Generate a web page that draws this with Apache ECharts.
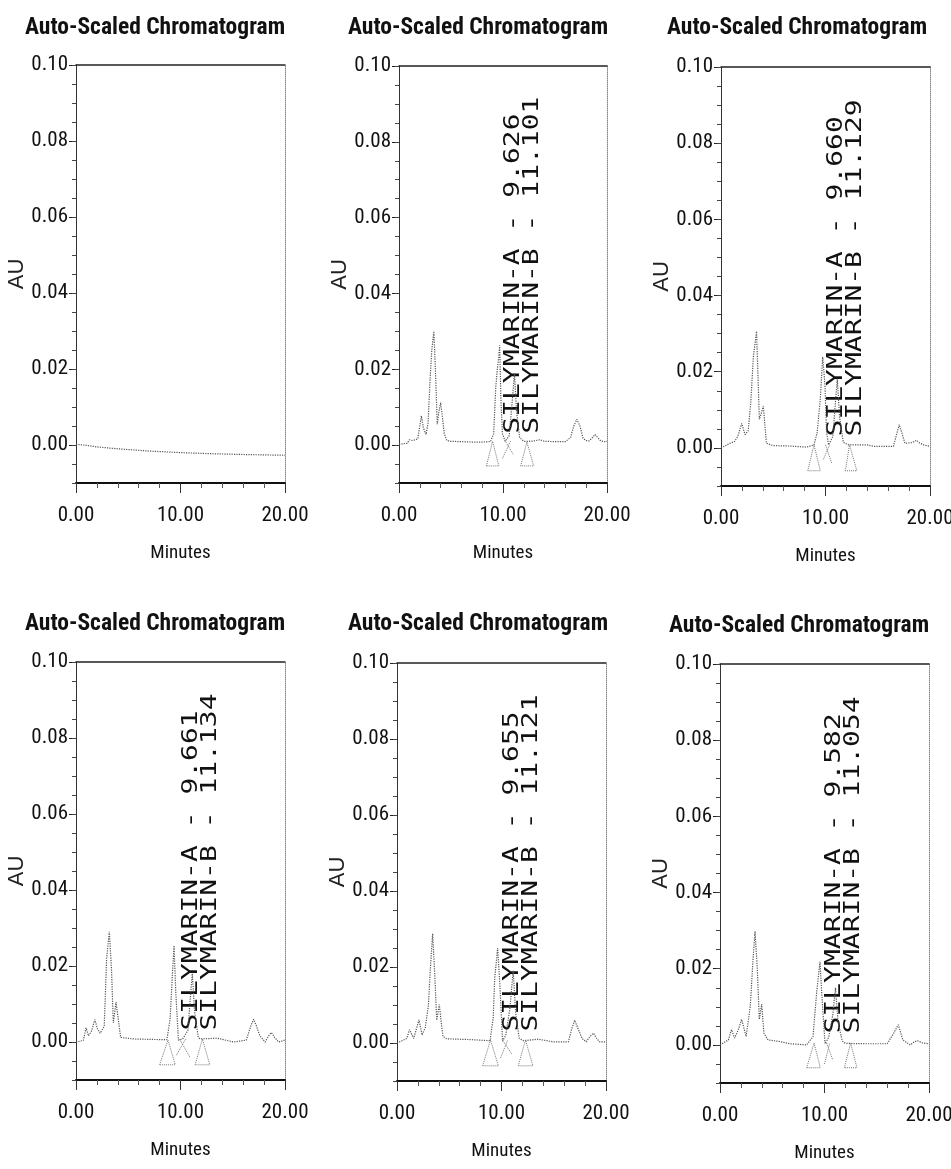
<!DOCTYPE html>
<html>
<head>
<meta charset="utf-8">
<script src="https://cdn.jsdelivr.net/npm/echarts@6/dist/echarts.min.js"></script>
<style>html,body{margin:0;padding:0;background:#fff}#c{width:951px;height:1169px}</style>
</head>
<body>
<div id="c"></div>
<script>
// ---------------- data ----------------
const panelTitles = ['Auto-Scaled Chromatogram','Auto-Scaled Chromatogram','Auto-Scaled Chromatogram',
                     'Auto-Scaled Chromatogram','Auto-Scaled Chromatogram','Auto-Scaled Chromatogram'];
const yTickValues = [0, 0.02, 0.04, 0.06, 0.08, 0.10];
const xTickValues = [0, 10, 20];
const xAxisName = 'Minutes';
const yAxisName = 'AU';
const peakNames = ['SILYMARIN-A', 'SILYMARIN-B'];
const retentionA = [null, 9.626, 9.660, 9.661, 9.655, 9.582];
const retentionB = [null, 11.101, 11.129, 11.134, 11.121, 11.054];
const labelBaseAU = 0.003;

const trace1 = [[0,0.0002],[1,-0.0001],[2,-0.0005],[4,-0.001],[7,-0.0016],[10,-0.002],[13,-0.0023],[16,-0.0025],[20,-0.0027]];
const trace2 = [[0,0.0002],[0.8,0.0005],[1.0,0.0014],[1.3,0.0012],[1.8,0.0016],[2.0,0.005],[2.15,0.0077],[2.35,0.0045],[2.6,0.0028],[2.8,0.006],[3.0,0.018],[3.15,0.025],[3.35,0.030],[3.5,0.02],[3.68,0.0055],[3.85,0.009],[4.0,0.0112],[4.15,0.008],[4.35,0.003],[4.6,0.0012],[5.0,0.001],[6.0,0.0009],[7.0,0.0008],[8.0,0.0008],[8.8,0.0009],[9.1,0.003],[9.3,0.015],[9.45,0.02],[9.58,0.023],[9.68,0.0263],[9.8,0.012],[9.95,0.003],[10.2,0.001],[10.6,0.0025],[10.9,0.012],[11.1,0.019],[11.3,0.009],[11.6,0.002],[12.0,0.001],[12.5,0.001],[13.0,0.0011],[13.5,0.0014],[14.0,0.001],[15.0,0.0009],[16.0,0.0009],[16.5,0.002],[16.8,0.005],[17.1,0.0068],[17.4,0.005],[17.7,0.0018],[18.0,0.0012],[18.3,0.0011],[18.6,0.002],[18.85,0.0028],[19.1,0.002],[19.4,0.0011],[19.7,0.0009],[20,0.001]];
const trace3 = [[0,0],[0.86,0.0012],[1.3,0.0017],[1.6,0.003],[1.98,0.0064],[2.3,0.0035],[2.6,0.0045],[2.85,0.012],[3.1,0.024],[3.4,0.0306],[3.55,0.018],[3.67,0.0075],[3.85,0.009],[4.05,0.011],[4.2,0.006],[4.35,0.0012],[5.0,0.0006],[6.5,0.0005],[8.2,0.0002],[8.9,0.0008],[9.2,0.004],[9.5,0.0128],[9.73,0.0239],[9.95,0.0165],[10.1,0.004],[10.3,0.0008],[10.7,0.003],[10.95,0.012],[11.13,0.018],[11.35,0.008],[11.7,0.0015],[12.2,0.0008],[12.7,0.0008],[14.0,0.0008],[14.6,0.0004],[16.5,0.0004],[16.8,0.0035],[17.05,0.0061],[17.3,0.004],[17.6,0.0012],[18.3,0.0014],[18.7,0.002],[19.0,0.0013],[19.4,0.0008],[20,0.0004]];
const trace4 = [[0,0],[0.7,0.0004],[0.96,0.0037],[1.2,0.0016],[1.5,0.003],[1.8,0.0059],[2.05,0.0035],[2.3,0.0023],[2.7,0.0041],[2.93,0.0219],[3.19,0.029],[3.4,0.019],[3.57,0.005],[3.83,0.0105],[4.05,0.0059],[4.27,0.0012],[5.5,0.0008],[7.0,0.0007],[8.7,0.0006],[9.0,0.0059],[9.2,0.0165],[9.38,0.0254],[9.55,0.013],[9.8,0.0005],[10.2,0.0008],[10.7,0.003],[10.95,0.012],[11.13,0.018],[11.35,0.008],[11.7,0.0012],[11.9,0.0008],[13.5,0.001],[15.1,0.0],[16.3,0.0005],[16.7,0.004],[17.0,0.006],[17.3,0.004],[17.6,0.0016],[18.1,0.0],[18.4,0.0015],[18.7,0.0025],[19.0,0.0012],[19.4,0.0],[20,0.0005]];
const trace5 = [[0,0],[0.93,0.0012],[1.2,0.0035],[1.6,0.0012],[2.1,0.0061],[2.4,0.0021],[2.7,0.004],[3.0,0.0097],[3.2,0.02],[3.41,0.0288],[3.63,0.017],[3.8,0.006],[4.05,0.0101],[4.25,0.005],[4.4,0.0017],[4.75,0.0011],[7.0,0.0009],[8.9,0.0006],[9.2,0.0064],[9.35,0.017],[9.63,0.025],[9.85,0.015],[10.1,0.0005],[10.4,0.002],[10.8,0.009],[11.12,0.019],[11.35,0.008],[11.7,0.0012],[12.1,0.0006],[13.5,0.001],[15.0,0.0003],[16.4,0.0003],[16.7,0.0035],[17.0,0.006],[17.3,0.004],[17.7,0.0012],[18.1,0.0003],[18.5,0.0018],[18.8,0.0026],[19.1,0.0012],[19.4,0.0003],[20,0.0003]];
const trace6 = [[0,0],[0.8,0.0013],[1.1,0.004],[1.4,0.0018],[1.75,0.004],[2.07,0.0067],[2.5,0.0022],[2.9,0.0102],[3.15,0.022],[3.35,0.0298],[3.57,0.02],[3.76,0.0067],[3.99,0.0107],[4.2,0.0031],[4.6,0.0013],[5.7,0.0009],[6.7,0.0003],[8.3,0],[8.9,0.0022],[9.25,0.0138],[9.57,0.0218],[9.73,0.0138],[10.05,0.0003],[10.4,0.002],[10.8,0.008],[11.05,0.015],[11.3,0.006],[11.7,0.001],[12.0,0.0004],[14.0,0.0003],[16.0,0.0003],[16.6,0.003],[17.06,0.0053],[17.5,0.0013],[18.2,0],[18.6,0.0008],[18.9,0.0011],[19.4,0.0005],[20,0.0003]];

// peak start/end markers (data units)
const marks2 = [[[8.4,-0.0055],[9.0,0.001],[9.6,-0.0055],[8.4,-0.0055]],[[9.95,-0.0035],[10.75,0.0012]],[[10.2,0.0012],[11.0,-0.0025]],[[11.7,-0.0055],[12.3,0.0008],[12.95,-0.0055],[11.7,-0.0055]]];
const marks3 = [[[8.3,-0.006],[8.9,0.0008],[9.5,-0.006],[8.3,-0.006]],[[9.8,-0.003],[10.4,0.0008]],[[10.0,0.0008],[10.6,-0.004]],[[11.9,-0.006],[12.3,0.0008],[13.0,-0.006],[11.9,-0.006]]];
const marks4 = [[[8.0,-0.006],[8.8,0.0005],[9.5,-0.006],[8.0,-0.006]],[[9.6,-0.0035],[10.5,0.0008]],[[9.9,0.0008],[10.9,-0.004]],[[11.4,-0.006],[12.1,0.0008],[12.8,-0.006],[11.4,-0.006]]];
const marks5 = [[[8.2,-0.006],[8.95,0.0008],[9.7,-0.006],[8.2,-0.006]],[[9.9,-0.004],[10.6,0.0008]],[[10.1,0.0008],[11.0,-0.003]],[[11.6,-0.006],[12.3,0.0008],[13.0,-0.006],[11.6,-0.006]]];
const marks6 = [[[8.3,-0.006],[9.0,0.0005],[9.6,-0.006],[8.3,-0.006]],[[10.0,-0.005],[10.5,0.0005]],[[10.2,0.0005],[10.8,-0.004]],[[11.9,-0.006],[12.5,0.0005],[13.1,-0.006],[11.9,-0.006]]];

const traces = [trace1, trace2, trace3, trace4, trace5, trace6];
const marks = [[], marks2, marks3, marks4, marks5, marks6];

// ---------------- font choice (narrow face, like Arial Narrow) ----------------
function pickNarrow() {
  const cands = [
    ['', "'Liberation Sans Narrow'"],
    ['', "'Arial Narrow'"],
    ['', "'Roboto Condensed'"],
    ['condensed', "'Liberation Sans'"],
    ['condensed', "'Roboto'"],
    ['condensed', "'Noto Sans'"],
    ['', "'Noto Sans Condensed'"],
    ['condensed', "'Open Sans'"],
    ['condensed', "'DejaVu Sans'"],
    ['', "'DejaVu Sans Condensed'"],
    ['semi-condensed', "'Noto Sans'"],
    ['', "'Liberation Sans'"]
  ];
  const ctx = document.createElement('canvas').getContext('2d');
  const target = 257;
  let best = cands[cands.length - 1], bestErr = 1e9;
  for (const c of cands) {
    ctx.font = 'bold ' + (c[0] ? c[0] + ' ' : '') + '24px ' + c[1];
    const w = ctx.measureText('Auto-Scaled Chromatogram').width;
    const err = Math.abs(w - target) / target;
    if (err < 0.07) { best = c; break; }
    if (err < bestErr) { bestErr = err; best = c; }
  }
  return best;
}
const nf = pickNarrow();
const NARROW = nf[1] + ",'Liberation Sans',sans-serif";
const W_BOLD = 'bold' + (nf[0] ? ' ' + nf[0] : '');
const W_REG = nf[0] ? 'normal ' + nf[0] : 'normal';

// ---------------- layout / style ----------------
const grids = [
  {left:76, top:65, width:209, height:418},
  {left:399, top:66, width:208, height:417},
  {left:721, top:67, width:209, height:419},
  {left:76, top:662, width:209, height:418},
  {left:397, top:663, width:209, height:418},
  {left:720, top:664, width:209, height:419}
];
const titlePos = [[155,16],[478,16],[797,16],[155,612],[478,612],[799,614]];

const option = {
  animation: false,
  backgroundColor: '#fff',
  title: panelTitles.map((t, i) => ({
    text: t, left: titlePos[i][0], top: titlePos[i][1], textAlign: 'center', padding: 0,
    textStyle: {fontFamily: NARROW, fontWeight: W_BOLD, fontSize: 23.5, color: '#111'}
  })),
  grid: grids.map(g => Object.assign({outerBoundsMode: 'none', containLabel: false}, g)),
  xAxis: [], yAxis: [], series: []
};

for (let i = 0; i < 6; i++) {
  option.xAxis.push({
    gridIndex: i, type: 'value', min: 0, max: 20, interval: 10, position: 'bottom',
    axisLine: {show: true, onZero: false, lineStyle: {color: '#111', width: 2}},
    axisTick: {show: true, length: 10, lineStyle: {color: '#333'}},
    minorTick: {show: true, splitNumber: 5, length: 5, lineStyle: {color: '#555'}},
    axisLabel: {formatter: v => v.toFixed(2), fontSize: 21, fontFamily: NARROW, fontWeight: W_REG, color: '#111', margin: 22, showMinLabel: true, showMaxLabel: true},
    splitLine: {show: false},
    name: xAxisName, nameLocation: 'middle', nameGap: 61,
    nameTextStyle: {fontFamily: NARROW, fontWeight: W_REG, fontSize: 19, color: '#111'}
  });
  option.xAxis.push({
    gridIndex: i, type: 'value', min: 0, max: 20, position: 'top',
    axisLine: {show: true, onZero: false, lineStyle: {color: '#222', width: 1.5}},
    axisTick: {show: false}, axisLabel: {show: false}, splitLine: {show: false}
  });
  option.yAxis.push({
    gridIndex: i, type: 'value', min: -0.01, max: 0.1, position: 'left',
    axisLine: {show: true, onZero: false, lineStyle: {color: '#333', width: 1}},
    axisTick: {show: true, length: 7, customValues: yTickValues, lineStyle: {color: '#222'}},
    axisLabel: {customValues: yTickValues, formatter: v => v.toFixed(2), fontSize: 21, fontFamily: NARROW, fontWeight: W_REG, color: '#111', margin: 8},
    splitLine: {show: false},
    name: yAxisName, nameLocation: 'middle', nameRotate: 90, nameGap: 36,
    nameTextStyle: {fontFamily: "'Liberation Sans',Arial,sans-serif", fontSize: 22, color: '#222'}
  });
  option.yAxis.push({
    gridIndex: i, type: 'value', min: -0.01, max: 0.1, interval: 0.005, position: 'left',
    axisLine: {show: false, onZero: false},
    axisTick: {show: true, length: 4, lineStyle: {color: '#444'}},
    axisLabel: {show: false}, splitLine: {show: false}
  });
  option.yAxis.push({
    gridIndex: i, type: 'value', min: -0.01, max: 0.1, position: 'right',
    axisLine: {show: true, onZero: false, lineStyle: {color: '#888', width: 1, type: 'dotted'}},
    axisTick: {show: false}, axisLabel: {show: false}, splitLine: {show: false}
  });
  option.series.push({
    type: 'line', xAxisIndex: 2 * i, yAxisIndex: 3 * i, data: traces[i],
    symbol: 'none', silent: true,
    lineStyle: {color: '#555', width: 1.2, type: 'dotted'}
  });
  marks[i].forEach(m => option.series.push({
    type: 'line', xAxisIndex: 2 * i, yAxisIndex: 3 * i, data: m,
    symbol: 'none', silent: true,
    lineStyle: {color: '#777', width: 1, type: 'dotted'}
  }));
}

const chart = echarts.init(document.getElementById('c'), null, {renderer: 'canvas'});
chart.setOption(option);

// peak labels, positioned through the axes' scales
const graphics = [];
for (let i = 1; i < 6; i++) {
  const pA = chart.convertToPixel({xAxisIndex: 2 * i, yAxisIndex: 3 * i}, [retentionA[i], labelBaseAU]);
  const pB = chart.convertToPixel({xAxisIndex: 2 * i, yAxisIndex: 3 * i}, [retentionB[i], labelBaseAU]);
  const items = [
    [pA[0] + 14.7, pA[1], peakNames[0] + ' - ' + retentionA[i].toFixed(3)],
    [pB[0] + 18.2, pB[1], peakNames[1] + ' - ' + retentionB[i].toFixed(3)]
  ];
  items.forEach(it => graphics.push({
    type: 'text', x: it[0], y: it[1], rotation: Math.PI / 2, scaleY: 0.75, silent: true,
    style: {text: it[2], fontFamily: "'DejaVu Sans Mono',monospace", fontSize: 28, fill: '#111',
            align: 'left', verticalAlign: 'middle', textAlign: 'left', textVerticalAlign: 'middle'}
  }));
}
chart.setOption({graphic: graphics});
</script>
</body>
</html>
